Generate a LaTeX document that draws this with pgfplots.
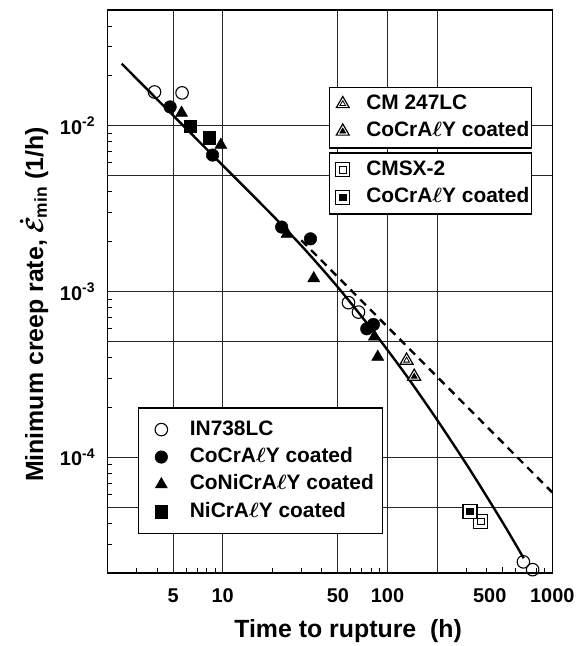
\documentclass[border=0pt]{standalone}
\usepackage{fontspec}
\setmainfont{Liberation Sans}
\usepackage{amsmath}
\usepackage{pgfplots}
\pgfplotsset{compat=1.18}
\tikzset{
  creeplegend/.style={
    draw=black, line width=1.3pt, fill=white,
    font=\fontsize{21}{25}\selectfont\bfseries\boldmath,
    cells={anchor=west},
    nodes={text height=15pt, text depth=4pt, inner ysep=4.3pt},
  },
}

\begin{document}
\begin{tikzpicture}
\begin{axis}[name=ax,
  xmode=log, ymode=log, scale only axis,
  width=447pt, height=566pt,
  xmin=2, xmax=1000, ymin=2e-5, ymax=5e-2,
  clip=false,
  xtick={5,10,50,100,500,1000},
  xticklabels={5,10,50,100,\hspace*{-26pt}500,1000},
  ytick={1e-4,1e-3,1e-2},
  yticklabels={10\textsuperscript{-4},10\textsuperscript{-3},10\textsuperscript{-2}},
  minor xtick={3,4,6,7,8,9,20,30,40,60,70,80,90,300,400,600,700,800,900},
  minor ytick={3e-5,4e-5,6e-5,7e-5,8e-5,9e-5,2e-4,3e-4,4e-4,6e-4,7e-4,8e-4,9e-4,
               2e-3,3e-3,4e-3,6e-3,7e-3,8e-3,9e-3,2e-2,3e-2,4e-2},
  extra x ticks={5,10,50,100,200}, extra x tick labels={},
  extra x tick style={grid=major, major tick length=0pt},
  extra y ticks={5e-5,1e-4,5e-4,1e-3,5e-3,1e-2}, extra y tick labels={},
  extra y tick style={grid=major, major tick length=0pt},
  major grid style={black!85, line width=1pt},
  tick align=inside, xtick pos=bottom, ytick pos=left,
  major tick length=6pt, minor tick length=5pt,
  tick style={black, line width=0.9pt},
  axis line style={line width=1.4pt},
  ticklabel style={font=\fontsize{20}{24}\selectfont\bfseries},
  xticklabel style={yshift=-12pt},
  yticklabel style={xshift=-9pt},
  label style={font=\fontsize{25}{30}\selectfont\bfseries\boldmath},
  xlabel={Time to rupture~~(h)},
  ylabel={Minimum creep rate, $\dot{\mathcal{E}}_{\text{min}}$ (1/h)},
  xlabel style={at={(ticklabel cs:0.541,10pt)}},
  ylabel style={at={(ticklabel cs:0.477,5pt)}},
  legend style={creeplegend, at={(0.069,0.069)}, anchor=south west,
    inner xsep=7pt, inner ysep=8pt, column sep=19pt},
  legend image code/.code={\path (-15pt,0pt) (7pt,0pt); \draw[#1] plot coordinates {(0pt,0pt)};},
]
% fitted curves
\addplot[forget plot, line width=2.4pt, smooth] coordinates {
  (2.44,0.0237) (10,5.78e-3) (19.95,2.90e-3) (31.6,1.79e-3) (50.1,1.06e-3)
  (79.4,6.0e-4) (125.9,3.26e-4) (199.5,1.69e-4) (316.2,8.43e-5) (501.2,4.03e-5)
  (671,2.46e-5)
};
\addplot[forget plot, line width=2.4pt, dash pattern=on 8pt off 6pt] coordinates {
  (30,2.04e-3) (1000,6.14e-5)
};
% IN738LC
\addplot[only marks, mark=o, mark size=6.3pt, mark options={fill=white, line width=1.1pt}]
  coordinates {
  (3.86,0.0160) (5.67,0.0158) (58.0,8.57e-4) (66.7,7.52e-4) (668,2.34e-5) (760,2.10e-5)
};
\addlegendentry{IN738LC}
% CoCrAlY coated
\addplot[only marks, mark=*, mark size=6.3pt, mark options={fill=black, line width=0.5pt}]
  coordinates {
  (4.80,0.0130) (8.68,6.66e-3) (22.8,2.45e-3) (34.1,2.08e-3) (74.9,5.96e-4) (82.2,6.33e-4)
};
\addlegendentry{CoCrA$\ell$Y coated}
% CoNiCrAlY coated
\addplot[only marks, mark=triangle*, mark size=7pt, mark options={fill=black, line width=0.5pt}]
  coordinates {
  (5.63,0.01195) (9.75,7.66e-3) (24.6,2.23e-3) (35.7,1.20e-3) (83.4,5.35e-4) (87.3,4.03e-4)
};
\addlegendentry{CoNiCrA$\ell$Y coated}
% NiCrAlY coated
\addplot[only marks, mark=square*, mark size=6.3pt, mark options={fill=black, line width=0.5pt}]
  coordinates {
  (6.34,9.92e-3) (8.29,8.50e-3)
};
\addlegendentry{NiCrA$\ell$Y coated}
\end{axis}

% CM 247LC
\begin{axis}[hide axis,
  xmode=log, ymode=log, scale only axis,
  width=447pt, height=566pt,
  xmin=2, xmax=1000, ymin=2e-5, ymax=5e-2, clip=false,
  legend style={creeplegend, at={(0.497,0.864)}, anchor=north west,
    inner xsep=0pt, inner ysep=3pt, column sep=14pt},
  legend image code/.code={\path (-13pt,0pt) (7pt,0pt);
    \draw[only marks, mark=triangle*, mark size=7.5pt, mark options={fill=white, line width=1.2pt}]
      plot coordinates {(0pt,0pt)};
    \draw[#1] plot coordinates {(0pt,0pt)};},
]
\addplot[forget plot, only marks, mark=triangle*, mark size=7.5pt,
  mark options={fill=white, line width=1.2pt}] coordinates {(130.6,3.84e-4) (145.3,3.07e-4)};
\addplot[only marks, mark=triangle, mark size=3.3pt, mark options={fill=white, line width=0.8pt}]
  coordinates {(130.6,3.84e-4)};
\addlegendentry{CM 247LC}
\addplot[only marks, mark=triangle*, mark size=3.3pt, mark options={fill=black, line width=0.8pt}]
  coordinates {(145.3,3.07e-4)};
\addlegendentry{CoCrA$\ell$Y coated}
\end{axis}

% CMSX-2
\begin{axis}[hide axis,
  xmode=log, ymode=log, scale only axis,
  width=447pt, height=566pt,
  xmin=2, xmax=1000, ymin=2e-5, ymax=5e-2, clip=false,
  legend style={creeplegend, at={(0.497,0.747)}, anchor=north west,
    inner xsep=0pt, inner ysep=3pt, column sep=14pt},
  legend image code/.code={\path (-13pt,0pt) (7pt,0pt);
    \draw[only marks, mark=square*, mark size=7pt, mark options={fill=white, line width=1.2pt}]
      plot coordinates {(0pt,0pt)};
    \draw[#1] plot coordinates {(0pt,0pt)};},
]
\addplot[forget plot, only marks, mark=square*, mark size=7pt,
  mark options={fill=white, line width=1.2pt}] coordinates {(367.6,4.10e-5) (316.6,4.71e-5)};
\addplot[only marks, mark=square, mark size=3.3pt, mark options={fill=white, line width=0.8pt}]
  coordinates {(367.6,4.10e-5)};
\addlegendentry{CMSX-2}
\addplot[only marks, mark=square*, mark size=3.3pt, mark options={fill=black, line width=0.8pt}]
  coordinates {(316.6,4.71e-5)};
\addlegendentry{CoCrA$\ell$Y coated}
\end{axis}

\path (ax.south west) ++(-108pt,-70pt) rectangle ++(581pt,646pt);
\end{tikzpicture}
\end{document}
